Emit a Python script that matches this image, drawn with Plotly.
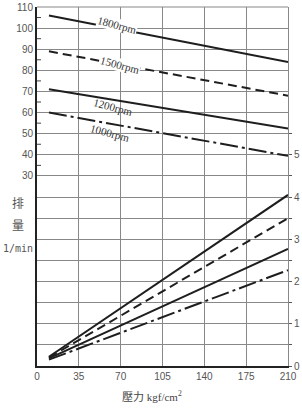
import plotly.graph_objects as go

# ---- data ----
pressure = [10, 210]
flow_1800 = [106, 84]
flow_1500 = [89, 68]
flow_1200 = [71, 52.5]
flow_1000 = [60, 39.5]

power_1800 = [0.22, 4.05]
power_1500 = [0.2, 3.5]
power_1200 = [0.18, 2.77]
power_1000 = [0.15, 2.27]

x_ticks = [0, 35, 70, 105, 140, 175, 210]
left_labels = [30, 40, 50, 60, 70, 80, 90, 100, 110]
right_labels = [0, 1, 2, 3, 4, 5]
speed_labels = ["1800rpm", "1500rpm", "1200rpm", "1000rpm"]

LINE = "#1e1e1e"
GRID = "#888888"
TXT = "#555555"
dashes = ["solid", "9px,5px", "solid", "18px,4px,3px,4px"]

fig = go.Figure()
for ys, d in zip([flow_1800, flow_1500, flow_1200, flow_1000], dashes):
    fig.add_trace(go.Scatter(x=pressure, y=ys, mode="lines",
                             line=dict(color=LINE, width=2, dash=d),
                             showlegend=False, hoverinfo="skip"))
for ys, d in zip([power_1800, power_1500, power_1200, power_1000], dashes):
    fig.add_trace(go.Scatter(x=pressure, y=ys, mode="lines", yaxis="y2",
                             line=dict(color=LINE, width=2, dash=d),
                             showlegend=False, hoverinfo="skip"))

# speed labels on the flow curves
label_pos = [(67, 101.5, True), (69.5, 82.6, True), (63.5, 62.5, False), (61, 50.5, False)]
for txt, (lx, ly, bg) in zip(speed_labels, label_pos):
    ann = dict(x=lx, y=ly, xref="x", yref="y", text=txt, showarrow=False,
               textangle=15, borderpad=0,
               font=dict(family="Liberation Serif", size=11, color="#333333"))
    if bg:
        ann["bgcolor"] = "white"
    fig.add_annotation(**ann)

left_vals = list(range(-60, 111, 10))
left_text = [str(v) if v in left_labels else "" for v in left_vals]
right_vals = [i * 0.5 for i in range(0, 12)]
right_text = [str(int(v)) if (v in right_labels) else "" for v in right_vals]

fig.update_layout(
    template="none",
    width=302, height=412,
    margin=dict(l=37, r=14, t=7, b=46, autoexpand=False),
    paper_bgcolor="white", plot_bgcolor="white",
    font=dict(family="Liberation Sans", size=10, color=TXT),
    xaxis=dict(range=[0, 210], tickmode="array", tickvals=x_ticks, showgrid=True,
               gridcolor=GRID, gridwidth=1, showline=True, linecolor="#222222",
               linewidth=2, ticks="", zeroline=False, automargin=False,
               tickfont=dict(family="Liberation Sans", size=10, color=TXT)),
    yaxis=dict(range=[-60, 110], tickmode="array", tickvals=left_vals,
               ticktext=left_text, showgrid=True, gridcolor=GRID, gridwidth=1,
               showline=True, linecolor="#222222", linewidth=2, ticks="",
               zeroline=False, automargin=False,
               tickfont=dict(family="Liberation Sans", size=10, color=TXT)),
    yaxis2=dict(range=[0, 8.5], overlaying="y", side="right", tickmode="array",
                tickvals=right_vals, ticktext=right_text, showgrid=False,
                showline=True, linecolor=GRID, linewidth=1, ticks="outside",
                ticklen=3, tickcolor="#555555", zeroline=False, automargin=False,
                tickfont=dict(family="Liberation Sans", size=10, color=TXT)),
)

# top border line
fig.add_shape(type="line", xref="paper", yref="paper", x0=0, x1=1, y0=1, y1=1,
              line=dict(color=GRID, width=1))
# short inside ticks on the left axis at the 5-unit marks
for v in range(35, 110, 10):
    fig.add_shape(type="line", xref="paper", yref="y", x0=0, x1=0.016, y0=v, y1=v,
                  line=dict(color="#444444", width=1))

# axis titles (paper coords; plot area spans 251 x 359 px)
fig.add_annotation(xref="paper", yref="paper", x=(152 - 37) / 251, y=-30 / 359,
                   xanchor="center", yanchor="middle",
                   text="<span style='font-family:Noto Sans CJK TC'>壓力</span> kgf/cm<sup>2</sup>",
                   showarrow=False,
                   font=dict(family="Liberation Serif", size=11, color="#444444"))
fig.add_annotation(xref="paper", yref="paper", x=(18 - 37) / 251, y=(366 - 202) / 359,
                   xanchor="center", yanchor="middle",
                   text="排", showarrow=False,
                   font=dict(family="Noto Sans CJK SC", size=12, color=TXT))
fig.add_annotation(xref="paper", yref="paper", x=(18 - 37) / 251, y=(366 - 225) / 359,
                   xanchor="center", yanchor="middle",
                   text="量", showarrow=False,
                   font=dict(family="Noto Sans CJK SC", size=12, color=TXT))
fig.add_annotation(xref="paper", yref="paper", x=(18 - 37) / 251, y=(366 - 248) / 359,
                   xanchor="center", yanchor="middle",
                   text="1/min", showarrow=False,
                   font=dict(family="DejaVu Sans Mono", size=10, color=TXT))

fig.write_html("out.html",
               config={"displayModeBar": False},
               post_script="document.body.style.margin='0px';document.body.style.overflow='hidden';")
